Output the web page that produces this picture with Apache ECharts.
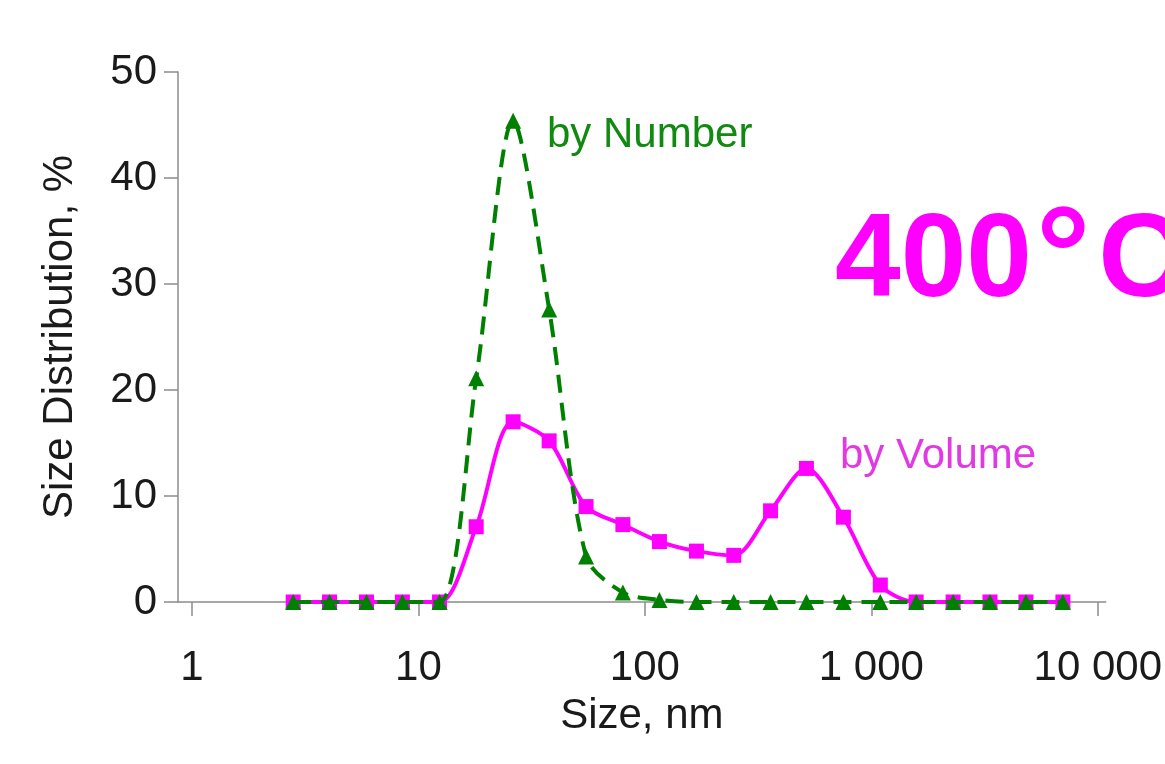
<!DOCTYPE html>
<html>
<head>
<meta charset="utf-8">
<title>Size distribution 400°C</title>
<script src="https://cdn.jsdelivr.net/npm/echarts@6/dist/echarts.min.js"></script>
<style>
  html, body { margin: 0; padding: 0; background: #fff; }
  #chart { width: 1165px; height: 764px; }
</style>
</head>
<body>
<div id="chart"></div>
<script>
// size bins, nm
var sizes = [2.8, 4.05, 5.9, 8.5, 12.4, 18.0, 26.2, 37.8, 55, 80, 116, 169, 247, 359, 517, 753, 1096, 1578, 2297, 3343, 4818, 7015];
// size distribution by volume, %
var byVolume = [0, 0, 0, 0, 0, 7.1, 17.0, 15.2, 9.0, 7.3, 5.7, 4.8, 4.4, 8.6, 12.6, 8.0, 1.6, 0, 0, 0, 0, 0];
// size distribution by number, %
var byNumber = [0, 0, 0, 0, 0, 21.1, 45.4, 27.6, 4.3, 0.9, 0.2, 0, 0, 0, 0, 0, 0, 0, 0, 0, 0, 0];
var yTicks = [0, 10, 20, 30, 40, 50];

var font = "'Liberation Sans', Arial, sans-serif";
var axisGray = "#8c8c8c";

function pairs(xs, ys) {
  var out = [];
  for (var i = 0; i < xs.length; i++) {
    out.push([xs[i], ys[i]]);
  }
  return out;
}

function xLabel(v) {
  var e = Math.log10(v);
  if (Math.abs(e - Math.round(e)) > 1e-6) return "";
  return String(Math.round(v)).replace(/\B(?=(\d{3})+(?!\d))/g, " ");
}

var chart = echarts.init(document.getElementById("chart"));
chart.setOption({
  animation: false,
  backgroundColor: "#fff",
  grid: { left: 178, right: 57, top: 72, bottom: 162 },
  xAxis: {
    type: "log",
    logBase: 10,
    min: 0.868,
    max: 10840,
    name: "Size, nm",
    nameLocation: "middle",
    nameGap: 93,
    nameTextStyle: { fontFamily: font, fontSize: 42, color: "#1a1a1a" },
    axisLine: { show: true, lineStyle: { color: axisGray, width: 1.5 } },
    axisTick: { show: true, inside: false, length: 14, lineStyle: { color: axisGray, width: 1.5 } },
    axisLabel: {
      fontFamily: font, fontSize: 42, color: "#1a1a1a", margin: 45,
      showMinLabel: false, showMaxLabel: false,
      formatter: xLabel
    },
    splitLine: { show: false },
    minorTick: { show: false }
  },
  yAxis: {
    type: "value",
    min: yTicks[0],
    max: yTicks[yTicks.length - 1],
    interval: 10,
    name: "Size Distribution, %",
    nameLocation: "middle",
    nameGap: 97,
    nameTextStyle: { fontFamily: font, fontSize: 42, color: "#1a1a1a" },
    axisLine: { show: true, lineStyle: { color: axisGray, width: 1.5 } },
    axisTick: { show: true, inside: false, length: 14, lineStyle: { color: axisGray, width: 1.5 } },
    axisLabel: { fontFamily: font, fontSize: 42, color: "#1a1a1a", margin: 21 },
    splitLine: { show: false }
  },
  series: [
    {
      name: "by Volume",
      type: "line",
      smooth: 0.3,
      symbol: "rect",
      symbolSize: 15,
      showAllSymbol: true,
      itemStyle: { color: "#ff00ff" },
      lineStyle: { color: "#ff00ff", width: 4 },
      data: pairs(sizes, byVolume),
      z: 2
    },
    {
      name: "by Number",
      type: "line",
      smooth: 0.3,
      symbol: "triangle",
      symbolSize: 16,
      showAllSymbol: true,
      itemStyle: { color: "#008000" },
      lineStyle: { color: "#008000", width: 4, type: [18, 10] },
      data: pairs(sizes, byNumber),
      z: 3
    }
  ],
  graphic: [
    {
      type: "text", left: 547, top: 114,
      style: { text: "by Number", fontFamily: font, fontSize: 42, fill: "#108a10" }
    },
    {
      type: "text", left: 840, top: 435,
      style: { text: "by Volume", fontFamily: font, fontSize: 42, fill: "#e23ae2" }
    },
    {
      type: "text", left: 835, top: 195,
      style: {
        text: "{n|400}{d|°}{c|C}",
        fontFamily: font,
        rich: {
          n: { fontFamily: font, fontSize: 118, fontWeight: "bold", fill: "#ff00ff" },
          d: { fontFamily: font, fontSize: 136, fontWeight: "bold", fill: "#ff00ff", padding: [0, 8, 0, 4] },
          c: { fontFamily: font, fontSize: 118, fontWeight: "bold", fill: "#ff00ff" }
        }
      }
    }
  ]
});
</script>
</body>
</html>
